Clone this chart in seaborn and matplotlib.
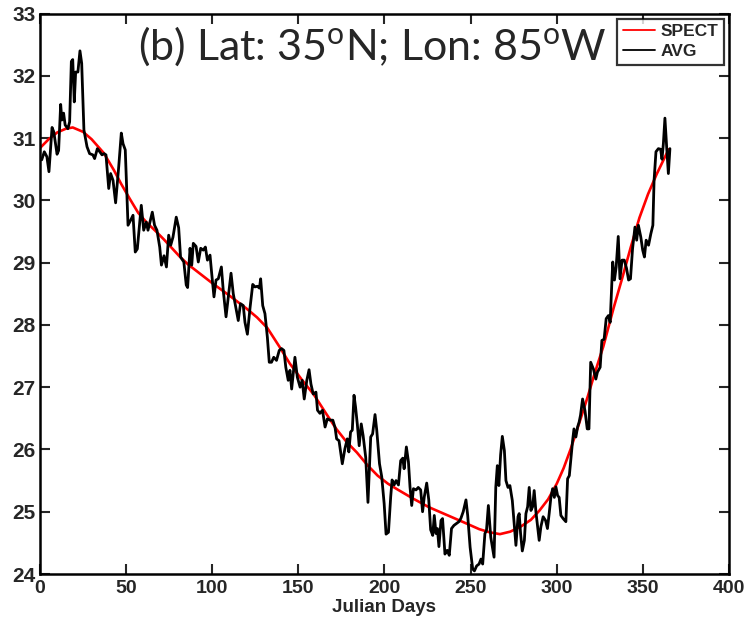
import matplotlib
matplotlib.use("Agg")
import matplotlib.pyplot as plt
import seaborn as sns
import pandas as pd

# ---- data ----
spect_days = [0, 5, 10, 15, 19, 25, 30, 37, 43, 47, 52, 57, 62, 67, 72, 76, 81, 86, 93, 100,
              110, 120, 126, 132, 139, 145, 152, 159, 166, 172, 178, 184, 190, 196, 202, 208,
              216, 226, 236, 246, 255, 261, 267, 273, 279, 285, 290, 295, 300, 304, 308, 313,
              318, 322, 327, 333, 338, 343, 348, 353, 358, 362, 365]
spect_vals = [30.84, 30.98, 31.09, 31.15, 31.17, 31.10, 30.98, 30.76, 30.48, 30.27, 30.03, 29.80,
              29.64, 29.51, 29.37, 29.25, 29.10, 28.97, 28.82, 28.67, 28.47, 28.26, 28.12, 27.95,
              27.65, 27.38, 27.12, 26.88, 26.58, 26.33, 26.12, 25.95, 25.75, 25.58, 25.45, 25.35,
              25.22, 25.07, 24.95, 24.83, 24.72, 24.67, 24.64, 24.68, 24.76, 24.87, 25.02, 25.20,
              25.45, 25.70, 26.00, 26.42, 26.85, 27.22, 27.65, 28.27, 28.75, 29.25, 29.72, 30.10,
              30.42, 30.65, 30.82]

avg_days = [1, 2.5, 4, 5.2, 7, 8, 9.9, 10.8, 12, 12.7, 13.7, 14.6, 16.2, 17.2, 18.2, 19, 19.9,
            20.7, 22, 23.2, 24.2, 25.5, 27.3, 28.8, 30.7, 31.7, 33.3, 34.7, 36, 37.2, 38.3, 39.9,
            41, 42.4, 43.9, 45.7, 47.2, 48.2, 49.5, 51.1, 52.6, 54, 55.3, 56.5, 58.8, 60.2, 61.7,
            62.7, 64, 65.2, 66.5, 67.9, 69.5, 70.5, 72, 73.4, 74.7, 75.9, 77.2, 79.1, 80.5, 81.6,
            83.5, 84.9, 85.7, 87.1, 88.1, 89, 90.6, 91.9, 93.3, 94.8, 96, 97.2, 98.7, 99.7, 101,
            102.2, 103.5, 105.3, 106.4, 108, 109.3, 110.9, 112.2, 113.8, 115.1, 116.4, 118, 119,
            120.4, 122, 123.5, 124.8, 126.2, 127.4, 128.1, 129.3, 130.6, 132, 133.1, 134.4, 135.7,
            137.3, 138.9, 140.2, 141.6, 142.7, 144.1, 145.1, 146.1, 148, 149.4, 151, 152.2, 153.4,
            154.9, 156.2, 157.3, 158.6, 160.2, 161.1, 162.5, 164, 165.5, 166.8, 168.4, 170, 171.3,
            172.2, 173.6, 175.5, 177, 178.4, 179.3, 180.3, 181.3, 182.3, 183.2, 184.2, 185.3,
            186.5, 187.6, 189.1, 190.4, 192, 193.1, 194.5, 195.5, 197.1, 198.4, 199.8, 200.9,
            202.3, 203.6, 204.4, 205.6, 206.7, 208.1, 209.4, 210.6, 211.4, 212.7, 213.9, 214.8,
            215.8, 216.8, 218.3, 219.6, 221, 222.1, 223.1, 224.5, 225.7, 226.8, 228, 228.9, 229.9,
            230.7, 231.6, 232.8, 233.7, 235.1, 236.4, 237.6, 238.9, 240.3, 241.8, 243.2, 244.3,
            245.7, 247.3, 248.3, 249.7, 251.2, 252.2, 253.5, 254.9, 256, 257, 258.3, 259.2, 260.3,
            261.7, 263.6, 264.6, 265.5, 266.4, 267.4, 268.4, 269.6, 270.5, 271.7, 272.8, 274.2,
            275.3, 276.3, 277.5, 278.2, 279, 280, 281.2, 282.1, 283.1, 284, 285, 286, 286.9, 287.9,
            288.9, 289.8, 290.8, 292.1, 293.5, 294.6, 295.6, 296.6, 297.6, 298.6, 299.5, 300.5,
            301.4, 302.4, 303.7, 305.3, 306.3, 307.3, 308.3, 309.2, 310, 311.1, 312.1, 313, 313.8,
            315, 316.4, 317.7, 318.7, 319.7, 321.3, 322.7, 323.6, 325.2, 326.2, 327.5, 328.7, 330,
            331, 332.5, 333.5, 334.5, 335.7, 336.7, 337.9, 339.2, 340.5, 341.7, 342.8, 344, 345.4,
            346.4, 347.4, 348.8, 349.9, 350.9, 351.9, 353.3, 354.6, 355.8, 356.5, 357.6, 359,
            360.3, 361.1, 361.9, 362.8, 363.8, 364.8, 365.7]
avg_vals = [30.65, 30.78, 30.70, 30.46, 31.17, 31.10, 30.74, 30.80, 31.54, 31.29, 31.40, 31.21,
            31.15, 31.26, 32.23, 32.26, 31.58, 32.06, 32.06, 32.40, 32.20, 31.13, 30.86, 30.75,
            30.73, 30.67, 30.83, 30.78, 30.73, 30.75, 30.73, 30.19, 30.43, 30.32, 29.96, 30.54,
            31.08, 30.91, 30.81, 29.60, 29.68, 29.76, 29.17, 29.22, 29.92, 29.52, 29.65, 29.52,
            29.67, 29.81, 29.60, 29.52, 29.25, 28.96, 29.11, 28.93, 29.44, 29.28, 29.41, 29.73,
            29.56, 29.09, 29.01, 28.64, 28.60, 29.23, 28.96, 29.31, 29.26, 29.01, 29.23, 29.20,
            29.25, 29.04, 29.12, 28.82, 28.45, 28.72, 28.74, 28.93, 28.55, 28.13, 28.45, 28.83,
            28.50, 28.26, 28.07, 28.34, 28.31, 28.04, 27.85, 28.29, 28.65, 28.61, 28.62, 28.59,
            28.74, 28.31, 28.18, 27.80, 27.40, 27.40, 27.48, 27.43, 27.59, 27.62, 27.59, 27.32,
            27.11, 27.27, 26.97, 27.48, 27.16, 27.00, 27.11, 26.81, 27.11, 27.28, 27.05, 26.89,
            26.92, 26.63, 26.58, 26.63, 26.36, 26.49, 26.47, 26.47, 26.35, 26.17, 26.14, 25.77,
            26.01, 26.17, 25.96, 26.28, 26.31, 26.87, 26.68, 26.41, 26.06, 26.41, 26.22, 25.87,
            25.15, 26.20, 26.25, 26.56, 26.31, 25.77, 25.56, 25.13, 24.64, 24.67, 25.24, 25.51,
            25.43, 25.50, 25.43, 25.82, 25.86, 25.69, 26.04, 25.80, 25.40, 25.10, 25.37, 25.35,
            25.39, 25.35, 25.00, 25.24, 25.46, 25.19, 24.71, 24.62, 24.94, 24.65, 24.73, 24.44,
            24.86, 24.89, 24.32, 24.38, 24.30, 24.73, 24.78, 24.81, 24.84, 24.89, 25.00, 25.19,
            24.94, 24.43, 24.08, 24.05, 24.13, 24.16, 24.24, 24.16, 24.65, 24.70, 25.10, 24.59,
            24.27, 25.39, 25.74, 25.42, 25.91, 26.21, 25.98, 25.50, 25.39, 25.42, 25.18, 24.81,
            24.46, 24.92, 24.97, 24.65, 24.37, 24.54, 24.97, 25.08, 25.39, 25.02, 25.08, 25.34,
            25.00, 24.76, 24.54, 24.76, 24.92, 24.86, 24.73, 24.97, 25.23, 25.37, 25.23, 25.40,
            25.26, 25.23, 24.94, 24.89, 24.84, 25.53, 25.58, 25.88, 26.14, 26.33, 26.20, 26.36,
            26.44, 26.55, 26.81, 26.62, 26.33, 26.33, 27.40, 27.29, 27.13, 27.24, 27.32, 27.75,
            27.77, 28.10, 28.15, 28.04, 29.01, 28.72, 28.93, 29.42, 28.74, 29.04, 29.04, 28.91,
            28.72, 28.74, 29.22, 29.57, 29.36, 29.60, 29.41, 29.20, 29.09, 29.36, 29.28, 29.46,
            29.60, 30.32, 30.78, 30.83, 30.82, 30.66, 30.91, 31.32, 30.86, 30.43, 30.83]

x_ticks = [0, 50, 100, 150, 200, 250, 300, 350, 400]
y_ticks = [24, 25, 26, 27, 28, 29, 30, 31, 32, 33]
title_text = r"(b) Lat: 35$^{\mathrm{o}}$N; Lon: 85$^{\mathrm{o}}$W"
x_label = "Julian Days"
series_names = ["SPECT", "AVG"]

# ---- style ----
sns.set_style("ticks")
plt.rcParams["font.family"] = ["Liberation Sans Narrow", "Liberation Sans", "DejaVu Sans"]
plt.rcParams["mathtext.fontset"] = "custom"
plt.rcParams["mathtext.rm"] = "Lato"
plt.rcParams["mathtext.it"] = "Lato:italic"

fig = plt.figure(figsize=(7.44, 6.18), dpi=100)
ax = fig.add_axes([40 / 744, 44 / 618, 689 / 744, 560.5 / 618])

spect_df = pd.DataFrame({"day": spect_days, "val": spect_vals})
avg_df = pd.DataFrame({"day": avg_days, "val": avg_vals})

sns.lineplot(data=spect_df, x="day", y="val", ax=ax, color="#ff0000", linewidth=1.9,
             estimator=None, sort=False, label=series_names[0], zorder=2)
sns.lineplot(data=avg_df, x="day", y="val", ax=ax, color="black", linewidth=2.0,
             estimator=None, sort=False, label=series_names[1], zorder=3)

ax.set_xlim(0, 400)
ax.set_ylim(24, 33)
ax.set_xticks(x_ticks)
ax.set_yticks(y_ticks)
ax.set_xticklabels([str(t) for t in x_ticks], fontweight="bold", fontsize=14)
ax.set_yticklabels([str(t) for t in y_ticks], fontweight="bold", fontsize=15)
ax.tick_params(direction="in", length=7, width=1.5, top=True, right=True)
ax.tick_params(axis="y", pad=3)
ax.tick_params(axis="x", pad=4)
for sp in ax.spines.values():
    sp.set_linewidth(1.8)
    sp.set_color("black")
ax.set_xlabel(x_label, fontweight="bold", fontsize=13.5, labelpad=2)
ax.set_ylabel("")

ax.text(0.142, 0.917, title_text, transform=ax.transAxes, fontsize=31,
        family="Lato", va="baseline", ha="left")

leg = ax.legend(loc="upper right", frameon=True, fancybox=False, borderaxespad=0.3,
                prop={"family": "Liberation Sans", "weight": "bold", "size": 12.5},
                handlelength=1.9, handletextpad=0.3,
                borderpad=0.3, labelspacing=0.3)
leg.get_frame().set_edgecolor("black")
leg.get_frame().set_linewidth(1.6)
for h in leg.get_lines():
    h.set_linewidth(1.3)

fig.savefig("out.png", dpi=100, facecolor="white")
